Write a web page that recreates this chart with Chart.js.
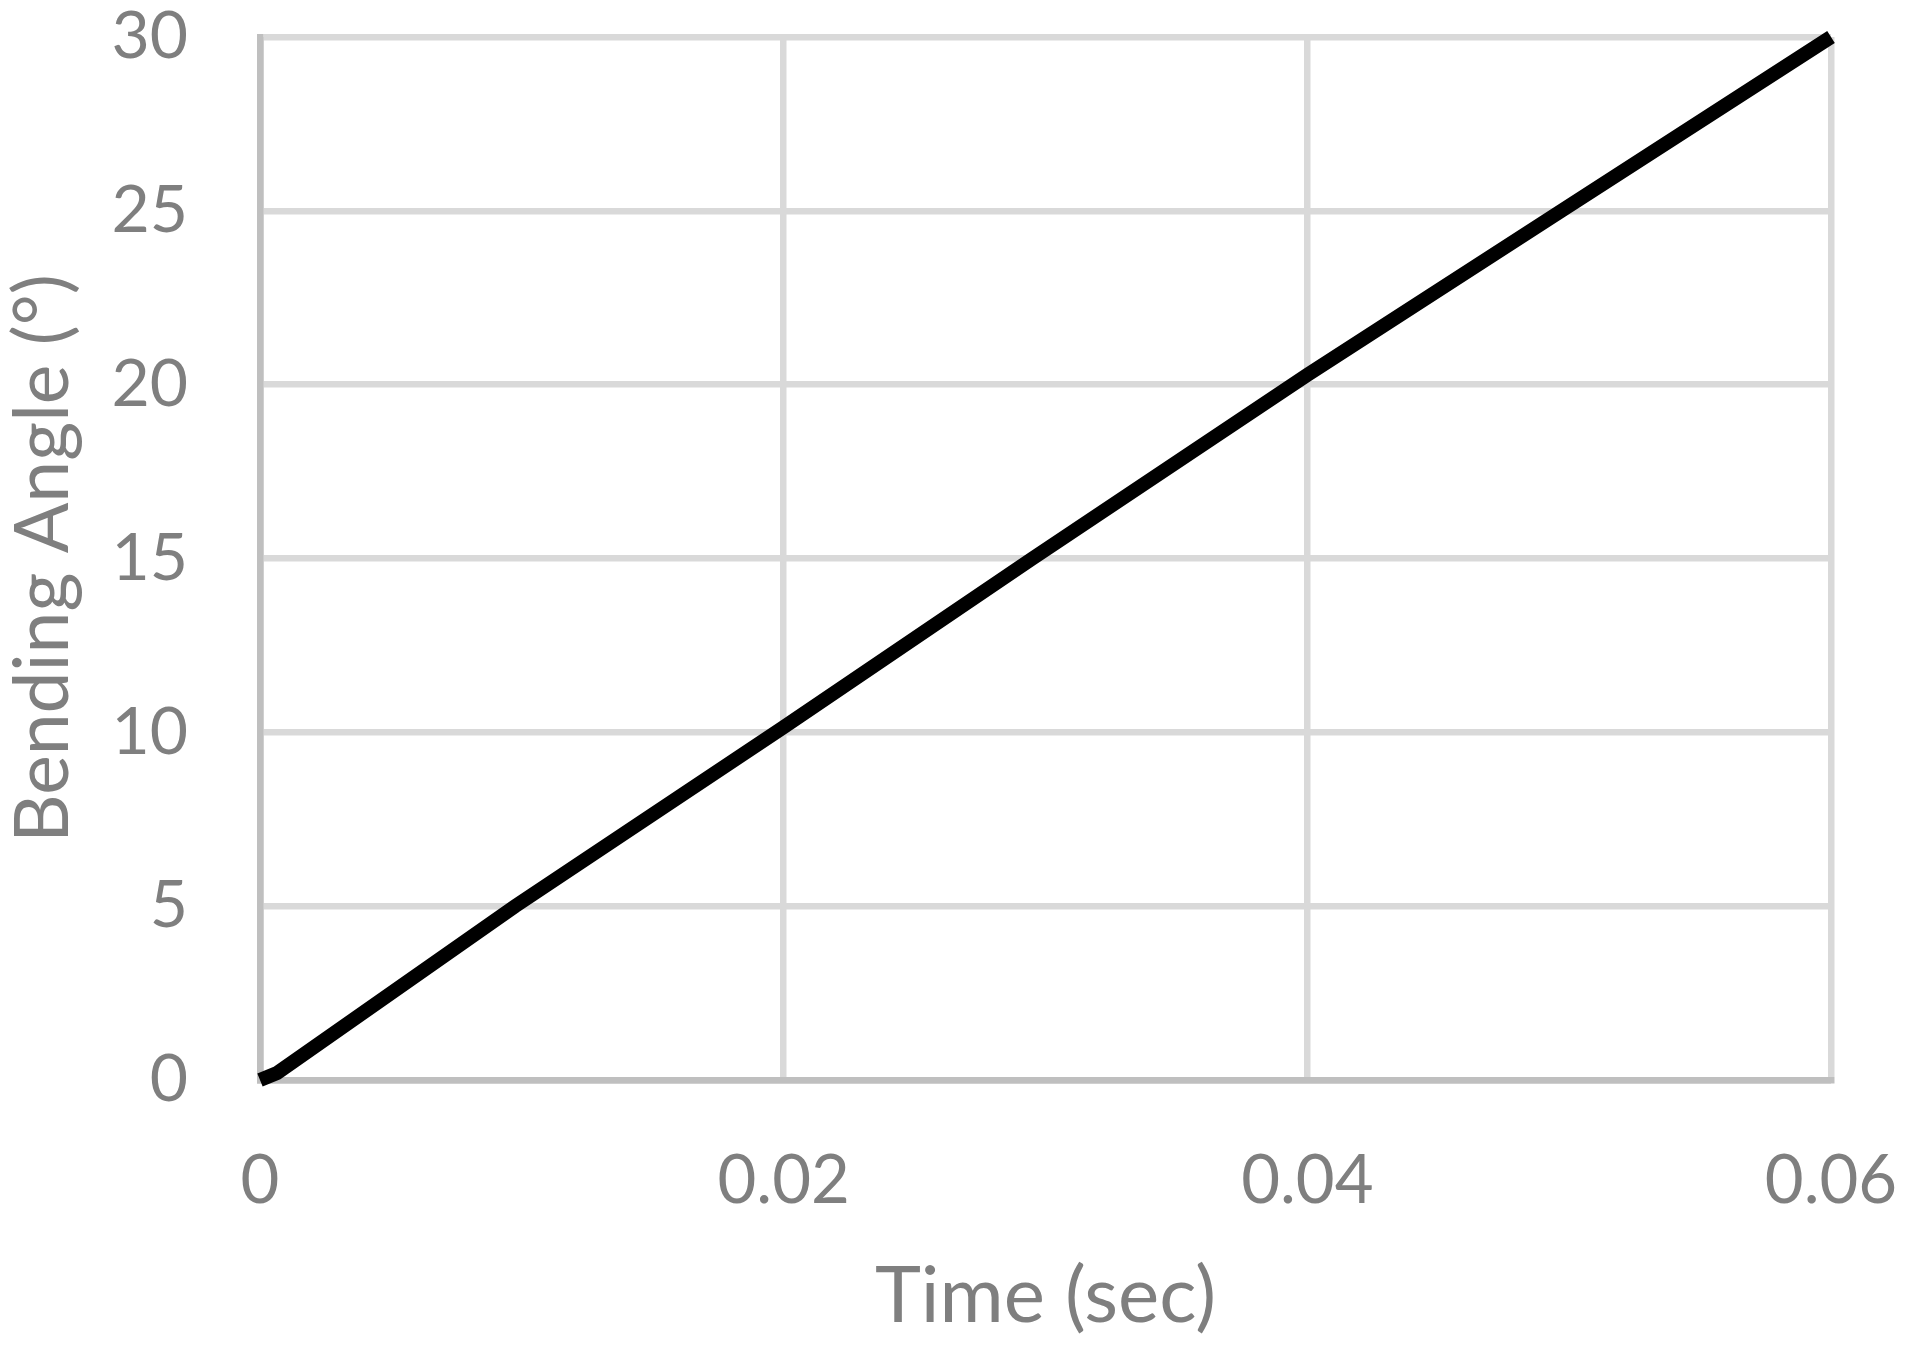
<!DOCTYPE html>
<html><head><meta charset="utf-8">
<script src="https://cdn.jsdelivr.net/npm/chart.js@4/dist/chart.umd.min.js"></script>
<style>html,body{margin:0;padding:0;background:#fff;overflow:hidden}#wrap{width:1917px;height:1352px}</style>
</head><body><div id="wrap"><canvas id="c" width="1917" height="1352"></canvas></div>
<script>
const timeSec = [0, 0.00065, 0.00974, 0.02, 0.0295, 0.04, 0.0497, 0.06];
const bendingAngle = [0, 0.2, 5, 10.15, 15, 20.28, 25, 30];
const xTickValues = [0, 0.02, 0.04, 0.06];
const xTickLabels = ['0', '0.02', '0.04', '0.06'];
const yTickValues = [0, 5, 10, 15, 20, 25, 30];
const yTickLabels = ['0', '5', '10', '15', '20', '25', '30'];
const xTitle = 'Time (sec)';
const yTitle = 'Bending Angle (°)';

const FONT = 'Lato, "Open Sans", sans-serif';
const TXT = '#7f7f7f';
const GRID = '#d9d9d9';
const AXIS = '#bfbfbf';

const points = timeSec.map((t, i) => ({x: t, y: bendingAngle[i]}));
const gridColor = ctx => (ctx.tick && ctx.tick.value === 0) ? AXIS : GRID;
const zeroPad = s => { s.paddingTop = 0; s.paddingBottom = 0; s.paddingLeft = 0; s.paddingRight = 0; };

new Chart(document.getElementById('c'), {
  type: 'line',
  data: {
    datasets: [{
      data: points,
      borderColor: '#000000',
      borderWidth: 14,
      pointRadius: 0,
      tension: 0,
      fill: false,
      clip: false
    }]
  },
  options: {
    responsive: false,
    animation: false,
    devicePixelRatio: 1,
    layout: {padding: {left: 0, right: 86, top: 37, bottom: 0}},
    plugins: {legend: {display: false}, tooltip: {enabled: false}},
    scales: {
      x: {
        type: 'linear',
        min: 0, max: 0.06,
        afterBuildTicks: s => { s.ticks = xTickValues.map(v => ({value: v})); },
        afterFit: s => { s.height = 272; zeroPad(s); },
        ticks: {
          callback: (v) => { const i = xTickValues.indexOf(v); return i >= 0 ? xTickLabels[i] : ''; },
          color: TXT,
          font: {family: FONT, size: 67, lineHeight: 1},
          padding: 68,
          maxRotation: 0, autoSkip: false
        },
        grid: {color: gridColor, lineWidth: 6.5, drawTicks: false},
        border: {color: AXIS, width: 6.5},
        title: {
          display: true, text: xTitle, color: TXT,
          font: {family: FONT, size: 78, lineHeight: 1},
          padding: {top: 0, bottom: 16}
        }
      },
      y: {
        type: 'linear',
        min: 0, max: 30,
        afterBuildTicks: s => { s.ticks = yTickValues.map(v => ({value: v})); },
        afterFit: s => { s.width = 260; zeroPad(s); },
        ticks: {
          callback: (v) => { const i = yTickValues.indexOf(v); return i >= 0 ? yTickLabels[i] : ''; },
          color: TXT,
          font: {family: FONT, size: 66, lineHeight: 1},
          padding: 72
        },
        grid: {color: gridColor, lineWidth: 6.5, drawTicks: false},
        border: {color: AXIS, width: 6.5},
        title: {
          display: true, text: yTitle, color: TXT,
          font: {family: FONT, size: 75, lineHeight: 1},
          padding: {top: 6, bottom: 0}
        }
      }
    }
  }
});
</script>
</body></html>
